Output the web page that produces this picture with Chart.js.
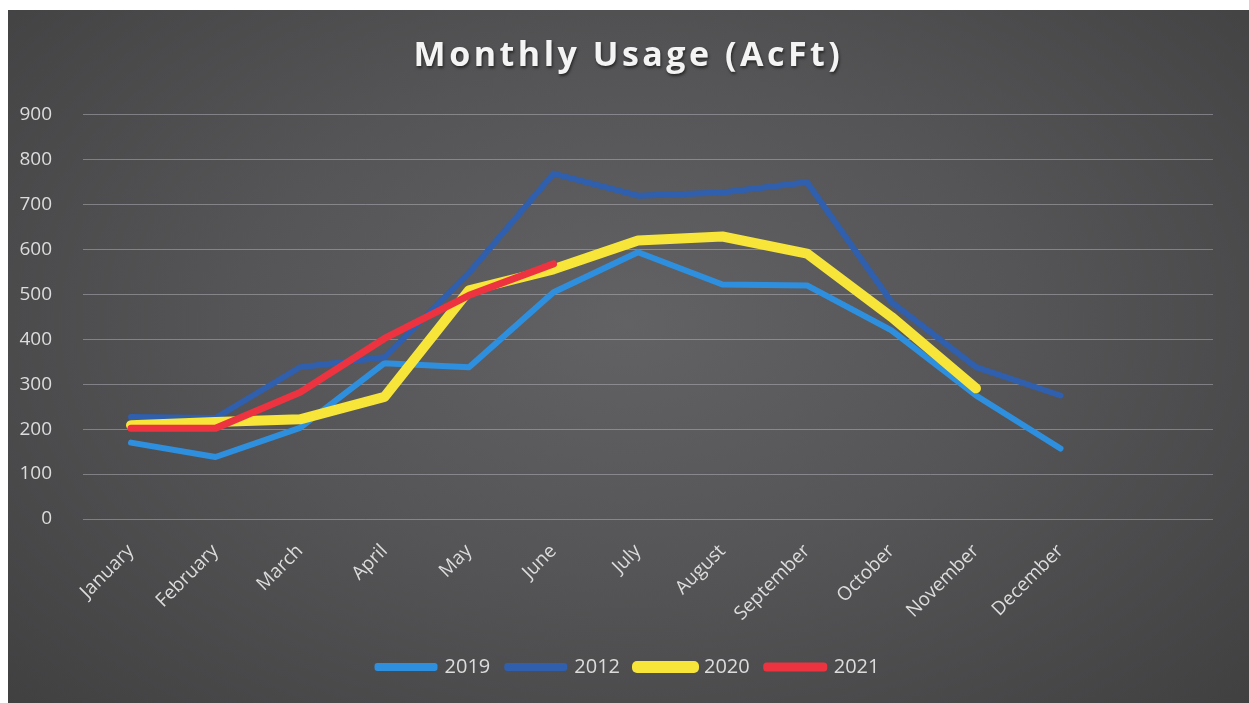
<!DOCTYPE html>
<html>
<head>
<meta charset="utf-8">
<script src="https://cdn.jsdelivr.net/npm/chart.js@4.4.1/dist/chart.umd.min.js"></script>
<style>
html,body{margin:0;padding:0;background:#fff;width:1249px;height:703px;overflow:hidden}
#wrap{position:absolute;left:8px;top:10px;width:1241px;height:693px;
  background:radial-gradient(ellipse 70% 80% at 50% 45%,#626264 0%,#555557 45%,#404041 100%)}
canvas{display:block}
</style>
</head>
<body>
<div id="wrap"><canvas id="c" width="1241" height="693"></canvas></div>
<script>
// data
const months=['January','February','March','April','May','June','July','August','September','October','November','December'];
const y2019=[170,138,203,347,338,505,594,522,520,420,275,157];
const y2012=[227,225,338,360,548,769,720,727,750,483,338,275];
const y2020=[209,216,222,272,509,556,620,629,591,450,291,null];
const y2021=[202,202,282,402,498,568,null,null,null,null,null,null];
const yTicks=[0,100,200,300,400,500,600,700,800,900];

const LBL='#dcdcdc', FONT="'Open Sans', sans-serif";
function pts(arr){return arr.map((v,i)=>({x:i+1,y:v}))}
function ds(label,arr,col,w,ord){
  return {label,data:pts(arr),borderColor:col,backgroundColor:col,borderWidth:w,
    pointRadius:0,tension:0,borderCapStyle:'round',borderJoinStyle:'round',spanGaps:false,order:ord};
}

// spaced-out title with a soft shadow, like the office chart
const titleStyle={id:'titleStyle',afterLayout(chart){
  const tb=chart.titleBlock;
  if(!tb||tb._styled)return;
  const orig=tb.draw.bind(tb);
  tb.draw=function(){
    const ctx=chart.ctx;ctx.save();
    ctx.letterSpacing='3.5px';
    ctx.shadowColor='rgba(0,0,0,0.55)';ctx.shadowBlur=3;ctx.shadowOffsetX=1;ctx.shadowOffsetY=2;
    orig();ctx.restore();
  };
  tb._styled=true;
}};

new Chart(document.getElementById('c'),{
  type:'line',
  data:{datasets:[
    ds('2019',y2019,'#2f8fdf',6,4),
    ds('2012',y2012,'#2f5fad',6,3),
    ds('2020',y2020,'#f7e53a',10,2),
    ds('2021',y2021,'#ee3340',7,1)
  ]},
  plugins:[titleStyle],
  options:{
    responsive:false,animation:false,
    layout:{padding:{left:0,right:0,top:0,bottom:16}},
    plugins:{
      title:{display:true,text:'Monthly Usage (AcFt)',color:'#f4f4f4',
        font:{family:FONT,size:34,weight:'bold',lineHeight:1.2},padding:{top:26,bottom:38}},
      legend:{position:'bottom',
        labels:{color:LBL,font:{family:FONT,size:20},boxWidth:57,boxHeight:2,padding:17,
          sort:(a,b)=>a.datasetIndex-b.datasetIndex}},
      tooltip:{enabled:false}
    },
    scales:{
      x:{type:'linear',min:0.432,max:13.805,
        grid:{display:false},border:{display:false},
        afterBuildTicks:s=>{s.ticks=months.map((m,i)=>({value:i+1}))},
        afterFit:s=>{s.height=121},
        ticks:{color:LBL,font:{family:FONT,size:19},autoSkip:false,minRotation:45,maxRotation:45,
          padding:13,callback:v=>months[v-1]}},
      y:{min:0,max:900,
        grid:{color:'rgba(190,190,200,0.45)',lineWidth:1,drawTicks:false},border:{display:false},
        afterBuildTicks:s=>{s.ticks=yTicks.map(v=>({value:v}))},
        afterFit:s=>{s.width=75},
        ticks:{color:LBL,font:{family:FONT,size:19},padding:31}},
      // empty right-hand strip, so the plot stops short of the edge as in the original
      yR:{position:'right',display:true,grid:{display:false},border:{display:false},
        ticks:{display:false},afterFit:s=>{s.width=36}}
    }
  }
});
</script>
</body>
</html>
